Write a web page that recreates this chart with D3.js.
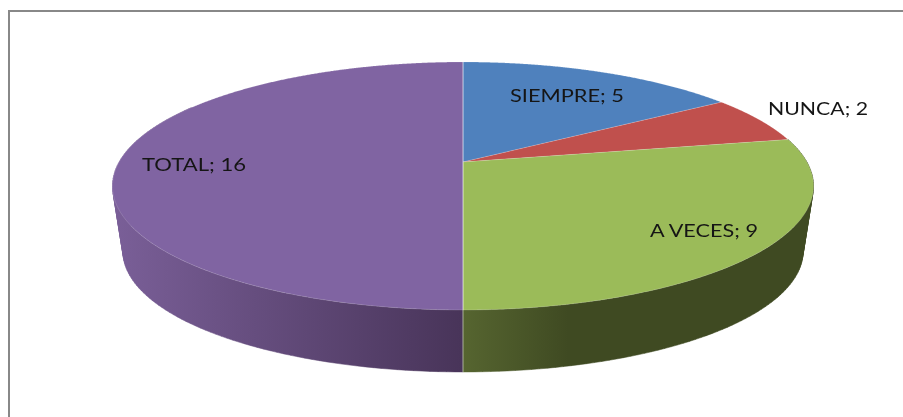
<!DOCTYPE html>
<html>
<head>
<meta charset="utf-8">
<script src="https://cdn.jsdelivr.net/npm/d3@7"></script>
<style>
  html, body { margin: 0; padding: 0; background: #fff; }
  svg { display: block; }
  text { font-family: "Lato", sans-serif; font-size: 18px; fill: #151515; }
</style>
</head>
<body>
<div id="chart"></div>
<script>
const categories = ["SIEMPRE", "NUNCA", "A VECES", "TOTAL"];
const values = [5, 2, 9, 16];
const topColors = ["#4f81bd", "#c0504d", "#9bbb59", "#8064a2"];

const width = 903;
const height = 417;

// label centres and widths (the text there is stretched sideways)
const labelX = [567, 818, 704, 194];
const labelY = [94.5, 107.5, 229.5, 164];
const labelWidth = [114, 100, 108, 104];

// the pie is seen in perspective, so the hub sits above the middle of the ellipse
const hubX = 463;
const hubY = 162;
const radiusX = 343.9;
const radiusY = 119.35;
const tilt = 0.1935;
// lower disc of the pie, a bit smaller because it is further away
const baseY = 228.4;
const baseScale = 0.97;

function project(angle, cy, scale) {
  const u = Math.sin(angle);
  const v = -Math.cos(angle);
  const w = 1 - tilt * v;
  return [hubX + (scale * radiusX * u) / w, cy + (scale * radiusY * v) / w];
}
const topPoint = (angle) => project(angle, hubY, 1);
const basePoint = (angle) => project(angle, baseY, baseScale);

// side wall shading runs left to right
const sideShades = {
  TOTAL: [
    { offset: 0, color: "#7a5f98" },
    { offset: 1, color: "#483459" },
  ],
  "A VECES": [
    { offset: 0, color: "#566530" },
    { offset: 0.3, color: "#3f4a22" },
    { offset: 1, color: "#3f4a22" },
  ],
};
const sideExtent = {
  TOTAL: [113, 463],
  "A VECES": [463, 814],
};

const svg = d3
  .select("#chart")
  .append("svg")
  .attr("width", width)
  .attr("height", height)
  .style("filter", "blur(0.35px)");

const defs = svg.append("defs");
Object.keys(sideShades).forEach((name, i) => {
  defs
    .append("linearGradient")
    .attr("id", "side" + i)
    .attr("gradientUnits", "userSpaceOnUse")
    .attr("x1", sideExtent[name][0])
    .attr("x2", sideExtent[name][1])
    .attr("y1", 0)
    .attr("y2", 0)
    .selectAll("stop")
    .data(sideShades[name])
    .enter()
    .append("stop")
    .attr("offset", (d) => d.offset)
    .attr("stop-color", (d) => d.color);
});

// frame, only the top and left edges are in the picture
svg
  .append("path")
  .attr("d", "M9,417V11H903")
  .attr("fill", "none")
  .attr("stroke", "#888888")
  .attr("stroke-width", 2);

const arcs = d3.pie().sort(null).value((d) => d)(values);
const line = d3.line();

function rimAngles(a0, a1, step) {
  return d3.range(a0, a1, step).concat([a1]);
}

// quads flip near the silhouette, keep them all one way round so no holes show
function wallQuad(a, b) {
  const quad = [topPoint(a), topPoint(b), basePoint(b), basePoint(a)];
  return line(d3.polygonArea(quad) < 0 ? quad.reverse() : quad) + "Z";
}

// side walls, only the slices that reach the front
const side = svg.append("g");
Object.keys(sideShades).forEach((name, i) => {
  const d = arcs[categories.indexOf(name)];
  const start = Math.max(d.startAngle, Math.PI / 3);
  const end = Math.min(d.endAngle, (Math.PI * 5) / 3);
  side
    .append("path")
    .attr("d", d3.pairs(rimAngles(start, end, 0.02)).map(([a, b]) => wallQuad(a, b)).join(""))
    .attr("fill", "url(#side" + i + ")")
    .attr("stroke", "url(#side" + i + ")")
    .attr("stroke-width", 0.5);
});

// top faces
svg
  .append("g")
  .selectAll("path")
  .data(arcs)
  .enter()
  .append("path")
  .attr("d", (d) =>
    line([[hubX, hubY]].concat(rimAngles(d.startAngle, d.endAngle, 0.004).map(topPoint))) + "Z"
  )
  .attr("fill", (d, i) => topColors[i])
  .attr("stroke", "#ffffff")
  .attr("stroke-opacity", 0.15)
  .attr("stroke-width", 1)
  .attr("stroke-linejoin", "round");

// light seam where purple meets the other slices, across the top and down the front
svg
  .append("path")
  .attr("d", line([topPoint(0), topPoint(Math.PI), basePoint(Math.PI)]))
  .attr("stroke", "#ffffff")
  .attr("stroke-opacity", 0.5)
  .attr("fill", "none");

// data labels
svg
  .append("g")
  .selectAll("text")
  .data(categories)
  .enter()
  .append("text")
  .attr("x", (d, i) => labelX[i])
  .attr("y", (d, i) => labelY[i])
  .attr("text-anchor", "middle")
  .attr("dominant-baseline", "central")
  .attr("textLength", (d, i) => labelWidth[i])
  .attr("lengthAdjust", "spacingAndGlyphs")
  .text((d, i) => d + "; " + values[i]);
</script>
</body>
</html>
